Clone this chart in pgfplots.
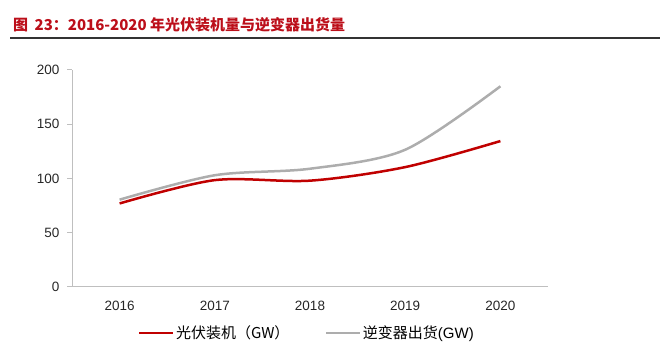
\documentclass[border=0pt]{standalone}
\usepackage{fontspec}
\setmainfont{Liberation Sans}
\newfontfamily\cjk{Noto Sans CJK SC}
\usepackage{pgfplots}
\pgfplotsset{compat=1.18}
\definecolor{redl}{HTML}{C00000}
\definecolor{grayl}{HTML}{ADADAD}
\definecolor{axg}{HTML}{BFBFBF}
\definecolor{titlered}{HTML}{BC0F1A}
\begin{document}
\begin{tikzpicture}[x=1pt,y=1pt]
\path[use as bounding box] (0,0) rectangle (665,351);
\node[anchor=base west, inner sep=0, text=titlered, font=\cjk\bfseries\fontsize{15}{18}\selectfont] at (13,320) {图\hspace{3pt} 23：2016-2020 年光伏装机量与逆变器出货量};
\draw[line width=1.6pt, black!80] (10,313) -- (660,313);
\begin{axis}[
  at={(72pt,64pt)}, anchor=south west,
  scale only axis, width=476pt, height=217pt,
  xmin=2015.5, xmax=2020.5, ymin=0, ymax=200,
  axis x line*=bottom, axis y line*=left,
  axis line style={axg, line width=1pt, -},
  xtick={2016,2017,2018,2019,2020},
  xticklabels={2016,2017,2018,2019,2020},
  ytick={0,50,100,150,200},
  major x tick style={draw=none},
  major y tick style={axg, line width=1pt},
  tick align=outside, major tick length=5pt,
  /pgf/number format/assume math mode=true,
  /pgf/number format/1000 sep={},
  tick label style={font=\fontsize{13.5}{16}\selectfont, text=black!85},
  yticklabel style={xshift=-4pt},
  xticklabel style={yshift=-6pt},
  legend style={at={(0.1387,-0.212)}, anchor=west, draw=none, fill=none,
    inner sep=0pt, outer sep=0pt,
    legend columns=2, font=\fontsize{15}{17}\selectfont,
    nodes={inner sep=1.5pt},
    /tikz/every even column/.append style={column sep=34pt}},
  legend image code/.code={\draw[#1, line width=2.5pt] (0pt,0pt) -- (34pt,0pt);},
]
\addplot[redl, line width=2.5pt, smooth, tension=0.5] coordinates {(2016,77) (2017,98.5) (2018,98) (2019,110.5) (2020,134.5)};
\addlegendentry{\cjk 光伏装机（GW）}
\addplot[grayl, line width=2.5pt, smooth, tension=0.5] coordinates {(2016,80.5) (2017,103) (2018,109) (2019,126.5) (2020,185)};
\addlegendentry{{\cjk 逆变器出货}(GW)}
\end{axis}
\end{tikzpicture}
\end{document}
